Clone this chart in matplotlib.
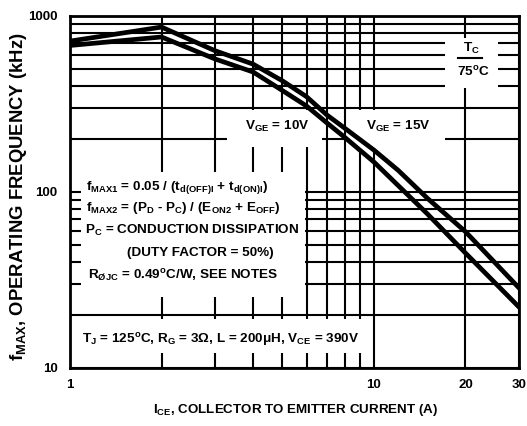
import matplotlib
matplotlib.use("Agg")
import matplotlib.pyplot as plt
from matplotlib.patches import Rectangle

plt.rcParams['font.family'] = ['Liberation Sans', 'DejaVu Sans']
plt.rcParams['font.weight'] = 'bold'
plt.rcParams['mathtext.fontset'] = 'custom'
plt.rcParams['mathtext.rm'] = 'Liberation Sans:bold'
plt.rcParams['mathtext.it'] = 'Liberation Sans:bold'
plt.rcParams['mathtext.bf'] = 'Liberation Sans:bold'
plt.rcParams['mathtext.default'] = 'rm'

# corriente de colector (A) y frecuencia maxima (kHz)
ice = [1, 2, 3, 4, 5, 6, 7, 8, 10, 12, 15, 20, 30]
f_vge15 = [720, 865, 635, 533, 428, 348, 274, 231, 173, 133, 92, 59.5, 28.5]
f_vge10 = [680, 760, 570, 481, 377, 308, 247, 205, 148, 109, 75, 45, 22.2]

xticks = [1, 10, 20, 30]
xtick_labels = ['1', '10', '20', '30']
yticks = [10, 100, 1000]
ytick_labels = ['10', '100', '1000']

fig = plt.figure(figsize=(5.27, 4.26), dpi=100)
ax = fig.add_axes([70 / 527, 1 - 368 / 426, 449 / 527, 352 / 426])

ax.set_xscale('log')
ax.set_yscale('log')
ax.set_xlim(1, 30)
ax.set_ylim(10, 1000)

ax.set_xticks(xticks)
ax.set_xticklabels(xtick_labels)
ax.set_xticks([2, 3, 4, 5, 6, 7, 8, 9], minor=True)
ax.set_yticks(yticks)
ax.set_yticklabels(ytick_labels)
ax.set_yticks([20, 30, 40, 50, 60, 70, 80, 90, 200, 300, 400, 500, 600, 700, 800, 900], minor=True)
ax.xaxis.set_minor_formatter(plt.NullFormatter())
ax.yaxis.set_minor_formatter(plt.NullFormatter())
ax.tick_params(which='both', length=0, labelsize=9.5)
ax.tick_params(axis='x', pad=8)
ax.tick_params(axis='y', pad=9)
ax.grid(True, which='both', color='black', linewidth=1.5)
ax.set_axisbelow(True)
for s in ax.spines.values():
    s.set_linewidth(2)

# cajas blancas que tapan la rejilla detras de los textos
cajas = [
    (0.835, 0.795, 0.118, 0.143),   # T_C
    (0.350, 0.628, 0.211, 0.105),   # VGE = 10V
    (0.619, 0.625, 0.216, 0.108),   # VGE = 15V
    (0.0245, 0.2017, 0.4985, 0.355),  # formulas
    (0.0045, 0.0426, 0.6545, 0.0964),  # condiciones
]
for (x0, y0, w, h) in cajas:
    ax.add_patch(Rectangle((x0, y0), w, h, transform=ax.transAxes,
                           facecolor='white', edgecolor='none', zorder=2))

ax.plot(ice, f_vge15, color='black', linewidth=3.4, zorder=4)
ax.plot(ice, f_vge10, color='black', linewidth=3.4, zorder=4)

fs = 9.7
ax.text(0.893, 0.909, r'T$_C$', transform=ax.transAxes, ha='center', va='center', fontsize=fs, zorder=5)
ax.plot([0.864, 0.918], [0.881, 0.881], transform=ax.transAxes, color='black', linewidth=1.5, zorder=5)
ax.text(0.898, 0.841, r'75$^{o}$C', transform=ax.transAxes, ha='center', va='center', fontsize=fs, zorder=5)

ax.text(0.461, 0.6875, r'V$_{GE}$ = 10V', transform=ax.transAxes, ha='center', va='center', fontsize=fs, zorder=5)
ax.text(0.7305, 0.6875, r'V$_{GE}$ = 15V', transform=ax.transAxes, ha='center', va='center', fontsize=fs, zorder=5)

lineas = [
    (0.036, 0.514, r'f$_{MAX1}$ = 0.05 / (t$_{d(OFF)I}$ + t$_{d(ON)I}$)'),
    (0.036, 0.4545, r'f$_{MAX2}$ = (P$_D$ - P$_C$) / (E$_{ON2}$ + E$_{OFF}$)'),
    (0.034, 0.392, r'P$_C$ = CONDUCTION DISSIPATION'),
    (0.127, 0.327, '(DUTY FACTOR = 50%)'),
    (0.040, 0.264, r'R$_{ØJC}$ = 0.49$^{o}$C/W, SEE NOTES'),
]
for (x, y, t) in lineas:
    ax.text(x, y, t, transform=ax.transAxes, ha='left', va='center', fontsize=fs, zorder=5)

ax.text(0.027, 0.082, r'T$_J$ = 125$^{o}$C, R$_G$ = 3Ω, L = 200μH, V$_{CE}$ = 390V',
        transform=ax.transAxes, ha='left', va='center', fontsize=fs, zorder=5)

fig.text(296 / 527, 1 - 410 / 426, r'I$_{CE}$, COLLECTOR TO EMITTER CURRENT (A)',
         ha='center', va='center', fontsize=9.6)
fig.text(19 / 527, 1 - 197 / 426, r'f$_{MAX}$, OPERATING FREQUENCY (kHz)',
         ha='center', va='center', rotation=90, fontsize=13.3)

fig.savefig('out.png', dpi=100)
plt.close()
